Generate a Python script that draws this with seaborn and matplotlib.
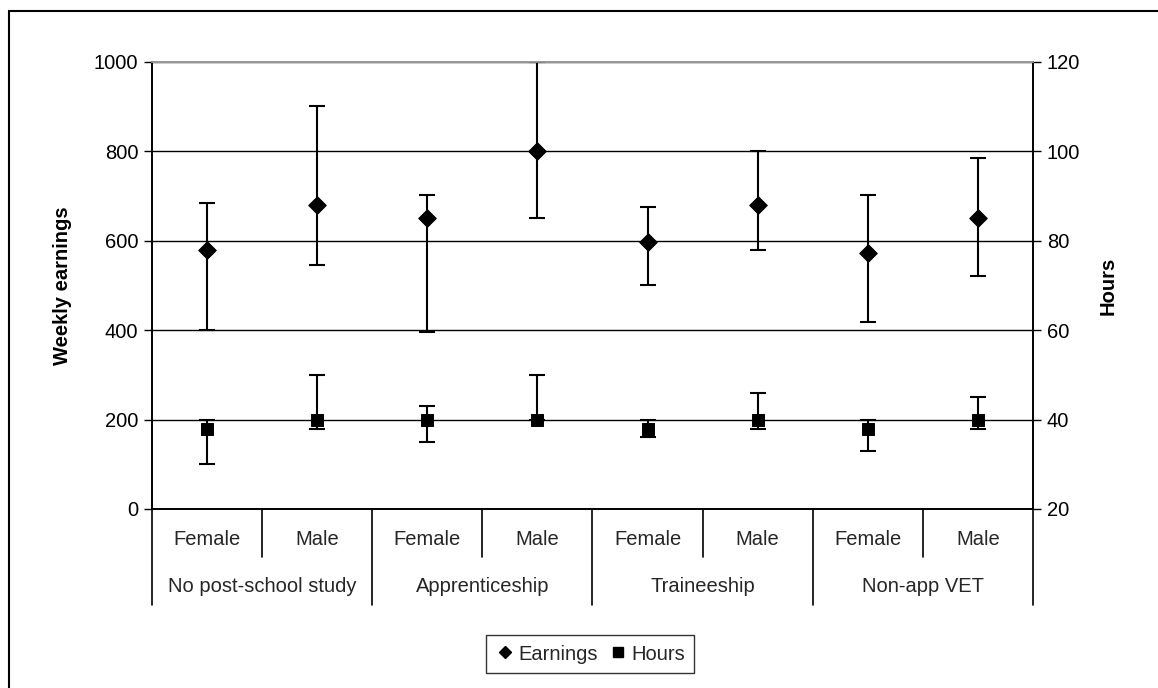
import numpy as np
import pandas as pd
import matplotlib
matplotlib.use("Agg")
import matplotlib.pyplot as plt
from matplotlib.patches import Rectangle
from matplotlib.lines import Line2D
import seaborn as sns

# chart data
groups = ["No post-school study", "Apprenticeship", "Traineeship", "Non-app VET"]
sexes = ["Female", "Male"] * 4
earnings = [580, 680, 652, 800, 598, 680, 572, 652]
earn_low = [400, 545, 397, 652, 500, 580, 419, 522]
earn_high = [684, 902, 702, 1000, 675, 800, 702, 786]
hours = [38, 40, 40, 40, 38, 40, 38, 40]
hours_low = [30, 38, 35, 40, 36, 38, 33, 38]
hours_high = [40, 50, 43, 50, 40, 46, 40, 45]

df = pd.DataFrame({
    "pos": np.arange(len(sexes)),
    "sex": sexes,
    "earnings": earnings,
    "earn_low": earn_low,
    "earn_high": earn_high,
    "hours": hours,
    "hours_low": hours_low,
    "hours_high": hours_high,
})

FS = 14.5

sns.set_theme(style="white")
plt.rcParams["font.family"] = ["Liberation Sans", "DejaVu Sans"]
plt.rcParams["font.size"] = FS

fig = plt.figure(figsize=(11.58, 6.88), dpi=100)
ax = fig.add_axes([0.1313, 0.2602, 0.7607, 0.6497])
ax2 = ax.twinx()

# earnings: diamonds on the left axis
ax.errorbar(df["pos"], df["earnings"],
            yerr=[df["earnings"] - df["earn_low"], df["earn_high"] - df["earnings"]],
            fmt="none", ecolor="black", elinewidth=1.5, capsize=5.5, capthick=1.5, zorder=3)
sns.scatterplot(data=df, x="pos", y="earnings", marker="D", s=80, color="black",
                edgecolor="black", ax=ax, zorder=4, legend=False)

# hours: squares on the right axis
ax2.errorbar(df["pos"], df["hours"],
             yerr=[df["hours"] - df["hours_low"], df["hours_high"] - df["hours"]],
             fmt="none", ecolor="black", elinewidth=1.5, capsize=5.5, capthick=1.5, zorder=3)
sns.scatterplot(data=df, x="pos", y="hours", marker="s", s=75, color="black",
                edgecolor="black", ax=ax2, zorder=4, legend=False)

ax.set_xlim(-0.5, len(sexes) - 0.5)
ax.set_ylim(0, 1000)
ax.set_yticks(range(0, 1001, 200))
ax2.set_ylim(20, 120)
ax2.set_yticks(range(20, 121, 20))
ax.set_xticks([])
ax.set_xlabel("")

ax.grid(axis="y", color="black", linewidth=1)
ax.set_axisbelow(True)
for a in (ax, ax2):
    a.tick_params(axis="y", direction="out", length=6, width=1, color="black",
                  labelsize=FS, labelcolor="black", pad=4)
    for side in ("left", "right", "bottom"):
        a.spines[side].set_color("black")
        a.spines[side].set_linewidth(1.2)
    a.spines["top"].set_color("#999999")
ax2.tick_params(axis="y", left=False, right=True)
ax.tick_params(axis="y", left=True, right=False)

ax.set_ylabel("Weekly earnings", fontsize=FS, fontweight="bold", color="black", va="center")
ax.yaxis.set_label_coords(-0.102, 0.5)
ax2.set_ylabel("Hours", fontsize=FS, fontweight="bold", color="black", va="center")
ax2.yaxis.set_label_coords(1.085, 0.5)
ax2.set_xlabel("")

# two-level category axis
tr = ax.get_xaxis_transform()
for i, s in enumerate(sexes):
    ax.text(i, -0.069, s, transform=tr, ha="center", va="center", fontsize=FS)
for g, name in enumerate(groups):
    ax.text(2 * g + 0.5, -0.174, name, transform=tr, ha="center", va="center", fontsize=FS)
for b in np.arange(-0.5, len(sexes), 1.0):
    depth = -0.215 if int(b + 0.5) % 2 == 0 else -0.107
    ax.add_line(Line2D([b, b], [0, depth], transform=tr, color="black",
                       linewidth=1.2, clip_on=False))

handles = [
    Line2D([], [], marker="D", color="black", linestyle="none", markersize=6.5),
    Line2D([], [], marker="s", color="black", linestyle="none", markersize=6.5),
]
leg = fig.legend(handles, ["Earnings", "Hours"], loc="center", ncol=2,
                 bbox_to_anchor=(590 / 1158, 1 - 654 / 688), frameon=True,
                 fancybox=False, edgecolor="black", fontsize=FS,
                 handletextpad=0.15, columnspacing=0.5, handlelength=1.0,
                 borderpad=0.45)
leg.get_frame().set_linewidth(1.0)

# outer chart border (right and bottom edges fall outside the image)
fig.patches.append(Rectangle((9 / 1158, -0.05), 1.2, 1 - 11 / 688 + 0.05,
                             transform=fig.transFigure, fill=False,
                             edgecolor="black", linewidth=1.5))

fig.savefig("out.png", dpi=100)
